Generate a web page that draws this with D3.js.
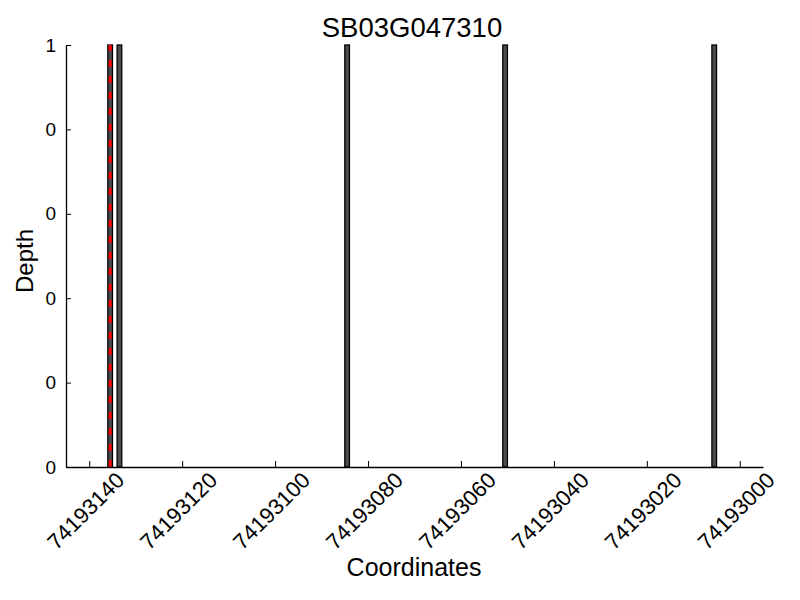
<!DOCTYPE html>
<html>
<head>
<meta charset="utf-8">
<script src="https://cdn.jsdelivr.net/npm/d3@7"></script>
<style>
  body { margin: 0; background: #fff; }
  text { font-family: "Liberation Sans", Arial, sans-serif; fill: #000; }
</style>
</head>
<body>
<svg id="chart" width="800" height="600"></svg>
<script>
const title = "SB03G047310";
const xDomain = [74193145, 74192995];
const barStarts = [74193135, 74193133, 74193084, 74193050, 74193005];
const barDepths = [1, 1, 1, 1, 1];
const markerPos = [74193135.5];
const xTicks = [74193140, 74193120, 74193100, 74193080, 74193060, 74193040, 74193020, 74193000];
const yTicks = [0, 0.2, 0.4, 0.6, 0.8, 1];
const yTickLabels = ["0", "0", "0", "0", "0", "1"];

const svg = d3.select("#chart");
const mLeft = 66, mRight = 763, mTop = 45, mBottom = 467;

const x = d3.scaleLinear().domain(xDomain).range([mLeft, mRight]);
const y = d3.scaleLinear().domain([0, 1]).range([mBottom, mTop]);

// bars
svg.append("g").selectAll("rect")
  .data(barStarts.map((s, i) => ({ s, d: barDepths[i] })))
  .join("rect")
  .attr("x", d => Math.min(x(d.s), x(d.s + 1)))
  .attr("width", d => Math.abs(x(d.s) - x(d.s + 1)))
  .attr("y", d => y(d.d))
  .attr("height", d => y(0) - y(d.d))
  .attr("fill", "#4d4d4d")
  .attr("stroke", "#000")
  .attr("stroke-width", 1.3);

// marker line
svg.append("g").selectAll("line")
  .data(markerPos)
  .join("line")
  .attr("x1", d => x(d)).attr("x2", d => x(d))
  .attr("y1", y(0)).attr("y2", y(1))
  .attr("stroke", "#ff0000")
  .attr("stroke-width", 3)
  .attr("stroke-dasharray", "7,9");

// y axis
const yAxis = d3.axisLeft(y).tickValues(yTicks).tickSizeInner(-5).tickSizeOuter(0)
  .tickPadding(10).tickFormat((d, i) => yTickLabels[i]);
const gy = svg.append("g").attr("transform", `translate(${mLeft},0)`).call(yAxis);
gy.select(".domain").attr("stroke", "#000").attr("stroke-width", 1.3);
gy.selectAll(".tick line").attr("stroke", "#000");
gy.selectAll(".tick text").attr("font-size", 19).attr("font-family", "Liberation Sans, Arial, sans-serif");

// x axis
const xAxis = d3.axisBottom(x).tickValues(xTicks).tickSizeInner(-6).tickSizeOuter(0)
  .tickFormat(d3.format("d"));
const gx = svg.append("g").attr("transform", `translate(0,${mBottom})`).call(xAxis);
gx.select(".domain").attr("stroke", "#000").attr("stroke-width", 1.3);
gx.selectAll(".tick line").attr("stroke", "#000");
gx.selectAll(".tick text")
  .attr("font-size", 22)
  .attr("font-family", "Liberation Sans, Arial, sans-serif")
  .attr("text-anchor", "middle")
  .attr("dominant-baseline", "central")
  .attr("y", 0).attr("dy", null)
  .attr("transform", "translate(-4,44) rotate(-45)");

// title
svg.append("text").attr("x", 412).attr("y", 37).attr("text-anchor", "middle")
  .attr("font-size", 27.5).text(title);

// axis labels
svg.append("text").attr("x", 414).attr("y", 576).attr("text-anchor", "middle")
  .attr("font-size", 25).text("Coordinates");
svg.append("text").attr("transform", "translate(33,261) rotate(-90)")
  .attr("text-anchor", "middle").attr("font-size", 24).text("Depth");
</script>
</body>
</html>
